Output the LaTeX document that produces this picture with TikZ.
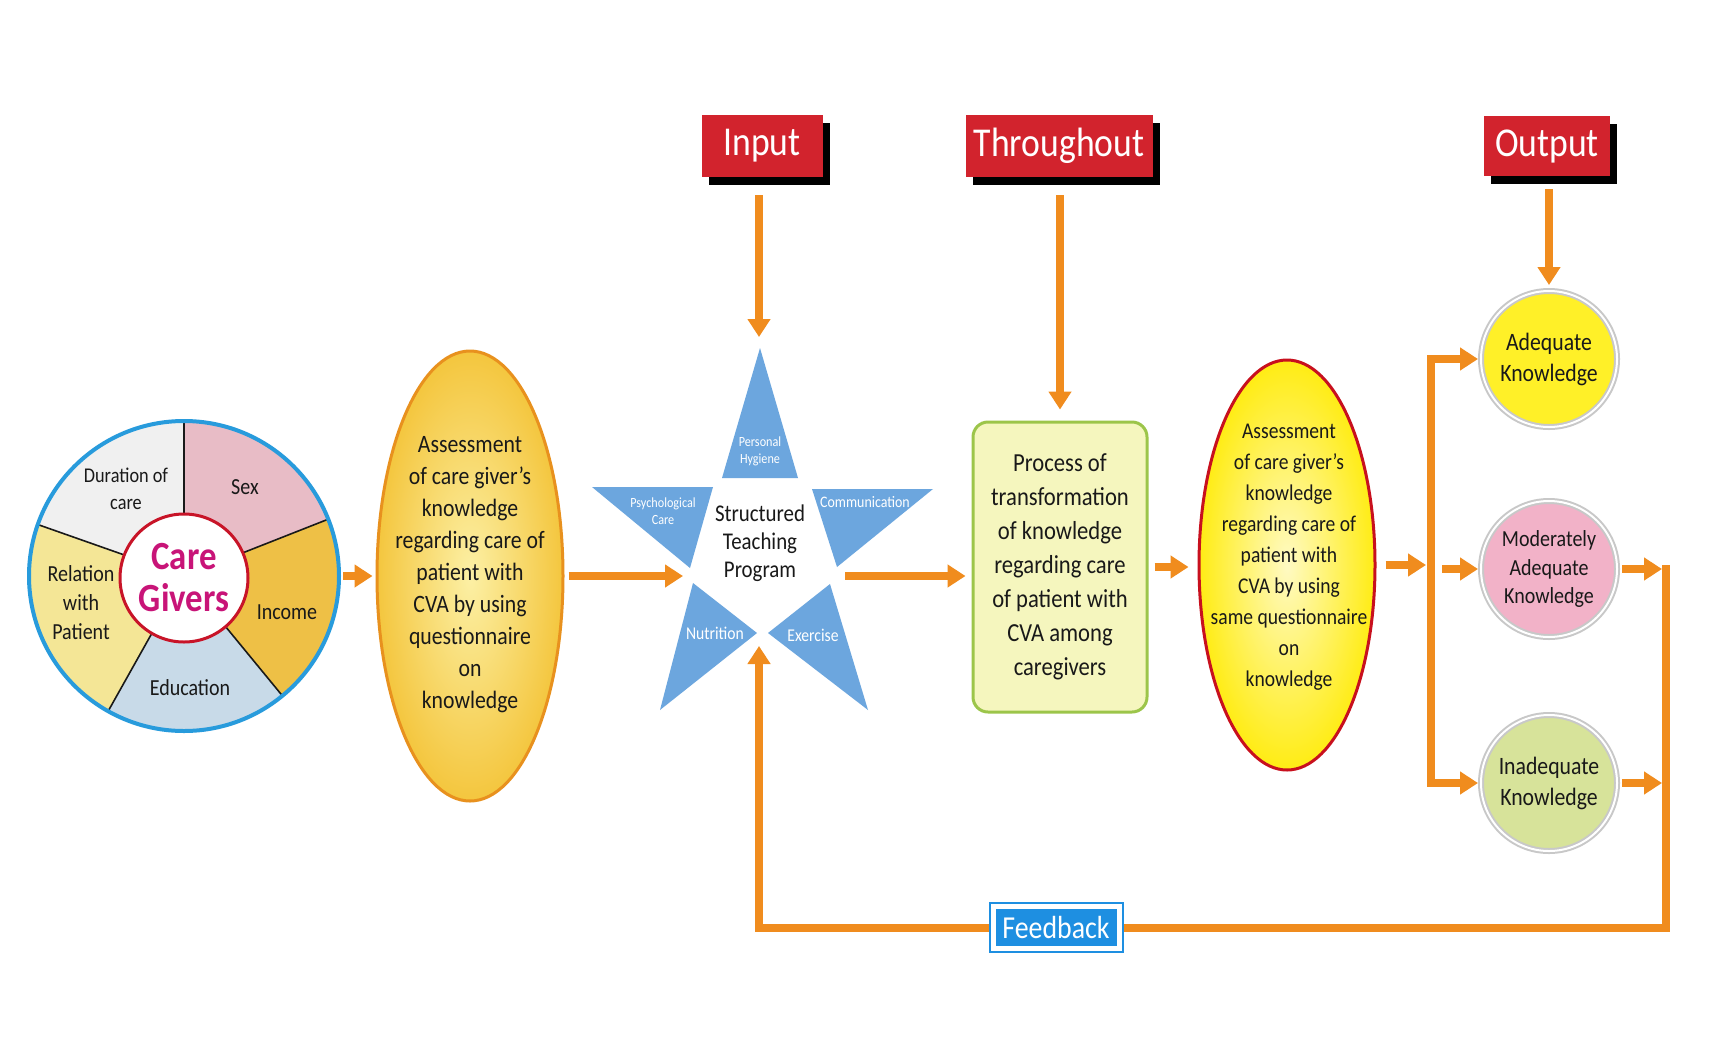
\documentclass[tikz,border=0pt]{standalone}
\usepackage{fontspec}
\setmainfont[FakeStretch=0.87]{Carlito}
\usetikzlibrary{shapes.geometric,arrows.meta,shadows,calc}
\definecolor{orng}{RGB}{240,140,30}
\definecolor{boxred}{RGB}{210,35,45}
\definecolor{starblue}{RGB}{108,166,222}
\definecolor{ringblue}{RGB}{40,155,220}
\definecolor{cgred}{RGB}{200,20,40}
\definecolor{cgmag}{RGB}{200,20,120}
\definecolor{segpink}{RGB}{232,188,198}
\definecolor{seggray}{RGB}{240,240,240}
\definecolor{seggold}{RGB}{238,192,70}
\definecolor{segblue}{RGB}{200,218,232}
\definecolor{segyel}{RGB}{244,230,150}
\definecolor{procfill}{RGB}{245,246,190}
\definecolor{procdraw}{RGB}{156,197,74}
\definecolor{ellred}{RGB}{200,16,30}
\definecolor{ellorange}{RGB}{232,145,30}
\definecolor{fbblue}{RGB}{30,143,225}
\definecolor{ringgray}{RGB}{200,200,200}
\definecolor{adeq}{RGB}{255,240,40}
\definecolor{modr}{RGB}{242,178,200}
\definecolor{inad}{RGB}{215,227,154}
\definecolor{txt}{RGB}{25,25,25}
\newcommand\fsz[2]{\fontsize{#1}{#2}\selectfont}
\begin{document}
\begin{tikzpicture}[x=1pt,y=-1pt,
  arr/.style={draw=orng, line width=8pt, -{Triangle[width=22pt,length=18pt]}},
  tipboth/.style={draw=orng, line width=8pt, {Triangle[width=22pt,length=18pt]}-{Triangle[width=22pt,length=18pt]}},
  redbox/.style={fill=boxred, text=white, font=\fsz{41}{45}, minimum height=62pt, inner sep=0pt,
     general shadow={fill=black, shadow xshift=7pt, shadow yshift=-8pt}},
  seglab/.style={font=\fsz{23}{29}, text=txt, align=center},
  starlab/.style={font=\fsz{14}{17}, text=white, align=center},
  bodytxt/.style={text=txt, align=center},
  kcirc/.style={circle, minimum size=136pt, inner sep=0pt, draw=ringgray, line width=2pt,
     double=white, double distance=2pt, align=center, font=\fsz{25}{31}, text=txt}
]
\useasboundingbox (0,0) rectangle (1716,1058);
\fill[white] (0,0) rectangle (1716,1058);

% ---- Care givers pie ----
\coordinate (cgc) at (184,576);
\def\cgR{155}
\fill[segpink] (cgc) -- ++(-21.5:\cgR) arc[start angle=-21.5, end angle=-90, radius=\cgR] -- cycle;
\fill[seggray] (cgc) -- ++(-90:\cgR) arc[start angle=-90, end angle=-160.6, radius=\cgR] -- cycle;
\fill[segyel] (cgc) -- ++(-160.6:\cgR) arc[start angle=-160.6, end angle=-240.7, radius=\cgR] -- cycle;
\fill[segblue] (cgc) -- ++(-240.7:\cgR) arc[start angle=-240.7, end angle=-309.4, radius=\cgR] -- cycle;
\fill[seggold] (cgc) -- ++(-309.4:\cgR) arc[start angle=-309.4, end angle=-381.5, radius=\cgR] -- cycle;
\foreach \a in {21.5,90,160.6,240.7,309.4}
  \draw[txt, line width=1.6pt] (cgc) -- ++(-\a:\cgR);
\draw[ringblue, line width=4pt] (cgc) circle[radius=\cgR];
\node (cg) [circle, minimum size=310pt, inner sep=0pt] at (cgc) {};
\node (cgin) [circle, fill=white, draw=cgred, line width=3pt, minimum size=128pt, inner sep=0pt,
   text=cgmag, font=\bfseries\fsz{40}{42}, align=center] at (184,578) {Care\\Givers};
\node (lsex) [seglab] at (245,487) {Sex};
\node (ldur) [seglab, font=\fsz{21}{27}] at (126,489) {Duration of\\care};
\node (linc) [seglab] at (287,612) {Income};
\node (ledu) [seglab] at (190,688) {Education};
\node (lrel) [seglab] at (81,603) {Relation\\with\\Patient};

% ---- Left ellipse ----
\node (e1) [ellipse, draw=ellorange, line width=3pt, inner color={rgb,255:red,252;green,240;blue,165},
   outer color={rgb,255:red,244;green,198;blue,62}, minimum width=186pt, minimum height=450pt, inner sep=0pt] at (470,576) {};
\node (t1) [bodytxt, font=\fsz{25}{32}] at (470,575)
  {Assessment\\of care giver’s\\knowledge\\regarding care of\\patient with\\CVA by using\\questionnaire\\on\\knowledge};

% ---- Star ----
\fill[starblue] (760,348) -- (798,478) -- (722,478) -- cycle;
\fill[starblue] (592,487) -- (713,487) -- (690,568) -- cycle;
\fill[starblue] (933,489) -- (812,489) -- (837,567) -- cycle;
\fill[starblue] (660,710) -- (693,583) -- (757,633) -- cycle;
\fill[starblue] (868,710) -- (830,584) -- (768,633) -- cycle;
\node (sph) [starlab] at (760,451) {Personal\\Hygiene};
\node (spc) [starlab] at (663,511) {Psychological\\Care};
\node (scm) [starlab, font=\fsz{16}{18}] at (865,502) {Communication};
\node (snu) [starlab, font=\fsz{18}{20}] at (715,633) {Nutrition};
\node (sexr) [starlab, font=\fsz{18}{20}] at (813,635) {Exercise};
\node (stp) [bodytxt, font=\fsz{24}{28}] at (760,543) {Structured\\Teaching\\Program};
\coordinate (starT) at (759,337);
\coordinate (starL) at (683,576);
\coordinate (starR) at (845,576);
\coordinate (starB) at (759,646);

% ---- Headers ----
\node (hin) [redbox, minimum width=121pt] at (762,146) {Input};
\node (hth) [redbox, minimum width=187pt] at (1059,146) {Throughout};
\node (hout) [redbox, minimum width=126pt, minimum height=60pt] at (1547,146) {Output};

% ---- Process box ----
\node (proc) [draw=procdraw, fill=procfill, line width=3pt, rounded corners=15pt, minimum width=174pt,
   minimum height=290pt, inner sep=0pt, bodytxt, font=\fsz{26}{34}] at (1060,567)
  {Process of\\transformation\\of knowledge\\regarding care\\of patient with\\CVA among\\caregivers};

% ---- Right ellipse ----
\node (e2) [ellipse, draw=ellred, line width=3pt, inner color={rgb,255:red,255;green,250;blue,195},
   outer color={rgb,255:red,255;green,236;blue,20}, minimum width=176pt, minimum height=410pt, inner sep=0pt] at (1287,565) {};
\node (t2) [bodytxt, font=\fsz{22.5}{31}] at (1289,557)
  {Assessment\\of care giver’s\\knowledge\\regarding care of\\patient with\\CVA by using\\same questionnaire\\on\\knowledge};

% ---- Outcome circles ----
\node (ade) [kcirc, fill=adeq] at (1549,359) {Adequate\\Knowledge};
\node (mod) [kcirc, fill=modr, font=\fsz{23}{28.5}] at (1549,569) {Moderately\\Adequate\\Knowledge};
\node (inad) [kcirc, fill=inad] at (1549,783) {Inadequate\\Knowledge};

% ---- Connectors ----
\draw[arr, shorten <=4pt, shorten >=3pt] (cg.east) -- (cg.east -| e1.west);
\draw[arr, shorten <=4pt] (e1.east) -- (e1.east -| starL);
\draw[arr, shorten <=18pt] (hin.south -| starT) -- (starT);
\draw[arr, shorten <=18pt, shorten >=11pt] (hth.south -| proc.north) -- (proc.north);
\draw[arr, shorten <=13pt, shorten >=5pt] (hout.south -| ade.north) -- (ade.north);
\draw[arr, shorten >=6pt] (starR) -- (starR -| proc.west);
\draw[arr, shorten <=6pt, shorten >=9pt] (proc.east) -- (proc.east -| e2.west);
\coordinate (bx) at (1431,569);
\draw[arr, shorten <=9pt, shorten >=5pt] (e2.east) -- (e2.east -| bx);
\draw[tipboth, shorten <=2pt, shorten >=2pt] (ade.west) -| (bx) |- (inad.west);
\draw[arr, shorten >=2pt] ([xshift=11pt]bx) -- (mod.west);
\coordinate (rbt) at (1666,565);
\coordinate (rbb) at (1666,928);
\coordinate (lbb) at (759,928);
\draw[arr, shorten <=4pt, shorten >=4pt] (mod.east) -- (mod.east -| rbt);
\draw[arr, shorten <=4pt, shorten >=4pt] (inad.east) -- (inad.east -| rbt);
\draw[arr] (rbt) -- (rbb) -- (lbb) -- (starB);
\node (fb) [fill=fbblue, draw=fbblue, line width=2pt, double=white, double distance=5pt, text=white,
   font=\fsz{32}{36}, minimum width=126pt, minimum height=42pt, inner sep=0pt] at (1056,927) {Feedback};
\end{tikzpicture}
\end{document}
